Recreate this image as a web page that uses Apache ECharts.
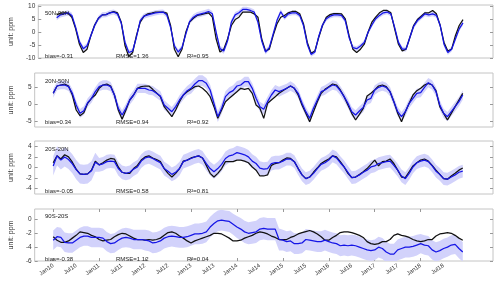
<!DOCTYPE html>
<html><head><meta charset="utf-8">
<script src="https://cdn.jsdelivr.net/npm/echarts@6/dist/echarts.min.js"></script>
<style>html,body{margin:0;padding:0;background:#fff}#c{width:500px;height:281px}</style>
</head><body><div id="c"></div>
<script>
// ---- data (monthly, Jan 2010 .. Dec 2018) ----
const regions = ['50N-90N', '20N-50N', '20S-20N', '90S-20S'];
const biasTxt = ['bias=-0.31', 'bias=0.34', 'bias=-0.05', 'bias=-0.38'];
const rmseTxt = ['RMSE=1.36', 'RMSE=0.94', 'RMSE=0.58', 'RMSE=1.12'];
const r2Txt = ['R\u00B2=0.95', 'R\u00B2=0.92', 'R\u00B2=0.81', 'R\u00B2=0.04'];

const obs1 = [6.6,7.3,7.4,7.3,5.7,1.2,-4.7,-7.9,-6.6,-1.4,2.7,5.3,6.6,6.7,7.4,7.9,7.4,3.8,-5.3,-9.5,-7.9,-1.4,3.8,6.1,7.0,7.3,7.7,
 7.7,
 7.7,7.3,2.5,-6.6,-9.5,-6.6,-0.1,3.8,5.3,6.4,6.7,7.1,7.4,5.7,-2.7,-7.7,-6.6,-2.7,2.5,4.8,5.7,7.7,7.7,7.7,7.0,5.7,-2.7,-7.3,-6.6,-1.4,3.1,5.7,6.4,7.4,7.9,7.9,7.0,3.1,-4.0,-8.2,-7.3,-2.1,2.5,5.7,6.7,7.1,7.1,7.0,5.1,-1.4,-6.6,-7.9,
 -6.6,
 -4.7,-0.1,3.8,5.7,7.4,8.3,8.3,7.4,1.2,-4.7,-7.3,-6.6,-2.1,2.5,4.8,6.1,7.4,7.4,8.3,7.0,2.5,-4.0,-7.3,-6.6,-1.4,2.5,4.8];
const mod1 = [5.5,6.6,7.0,7.4,6.4,1.8,-3.8,-6.4,-5.3,-1.4,2.5,5.3,6.6,6.7,7.4,7.7,7.0,3.5,-4.0,-7.9,-7.3,-2.0,4.4,6.1,6.6,7.0,7.4,
 7.6,
 7.7,6.6,1.8,-5.3,-7.7,-6.0,-0.8,4.0,5.7,6.6,7.0,7.4,7.9,7.0,-0.1,-6.4,-7.3,-3.4,3.8,6.6,7.4,8.7,8.7,8.3,7.7,3.8,-3.4,-7.7,-6.0,-0.8,4.4,7.8,5.5,7.0,7.4,7.4,6.4,2.5,-4.7,-8.6,-7.7,-1.7,2.7,5.1,6.1,6.6,6.6,6.4,4.4,-2.1,-6.0,-6.4,
 -5.4,
 -4.0,-0.1,2.7,5.1,6.4,7.4,7.7,7.0,1.8,-4.0,-6.6,-6.6,-2.1,2.2,4.4,5.7,7.0,6.6,7.0,6.4,2.5,-4.7,-7.9,-6.6,-2.7,1.2,3.5];
const spread1 = [1.0,1.0,1.0,1.1,1.0,0.9,0.9,0.9,0.9];

const obs2 = [3.3,5.5,5.8,6.1,5.5,2.8,-1.7,-3.4,-2.5,0.3,1.8,2.8,4.8,5.8,6.1,5.5,2.8,-1.7,-4.5,-1.7,1.3,2.8,4.8,5.3,5.5,5.5,4.5,
 3.4,
 2.3,-0.7,-2.2,-3.7,-1.7,0.8,2.8,3.8,4.5,5.3,5.5,4.8,3.8,2.3,-0.7,-4.2,-1.7,0.8,1.8,2.8,3.8,4.8,4.5,4.8,3.3,-0.2,-1.2,-4.2,0.3,1.3,2.3,3.3,4.1,4.8,5.5,4.8,2.8,-0.2,-2.7,-5.2,-2.2,0.8,3.3,4.5,5.3,6.1,5.8,4.3,2.3,-0.2,-2.7,-4.7,
 -3.0,
 -1.2,2.5,3.3,4.3,5.5,5.8,5.3,3.8,0.8,-2.7,-5.2,-2.2,0.3,2.8,4.1,4.8,5.8,6.3,5.8,4.1,-0.7,-2.7,-4.7,-2.7,-0.7,1.3,3.3];
const mod2 = [3.3,5.5,5.8,5.8,5.3,3.3,-0.2,-2.7,-1.9,0.5,1.8,3.8,5.3,5.8,5.8,5.3,2.8,-1.2,-3.2,-1.2,1.3,2.8,4.8,4.8,4.8,4.3,4.1,
 3.3,
 2.5,-0.2,-1.2,-2.2,-0.7,1.3,2.8,4.1,4.8,6.1,7.1,7.1,6.3,4.3,0.3,-3.7,-1.2,2.3,3.5,4.1,5.5,5.8,6.8,6.8,4.8,1.8,-0.7,-1.5,0.8,2.8,4.3,3.8,4.3,4.8,5.5,4.8,3.3,0.3,-2.2,-4.2,-1.2,1.3,3.8,4.3,5.1,5.8,5.5,4.1,2.3,0.3,-2.2,-3.2,
 -2.0,
 -0.9,1.3,1.8,4.3,5.1,5.5,5.1,3.8,0.8,-2.2,-3.7,-2.2,0.3,1.8,3.3,3.5,5.1,6.5,5.8,3.8,-0.2,-2.7,-3.7,-2.2,-0.7,0.8,2.8];
const spread2 = [1.3,1.4,1.4,1.6,1.5,1.4,1.4,1.4,1.4];

const obs3 = [0.9,2.2,1.6,2.4,2.0,1.0,-0.3,-1.2,-1.3,-1.2,-0.5,1.2,0.5,0.9,1.4,1.7,1.6,0.1,-0.9,-1.1,-1.1,-0.2,0.4,1.4,2.0,2.2,1.8,
 1.5,
 1.1,-0.2,-1.1,-1.8,-1.1,-0.2,1.2,1.4,1.8,2.0,2.2,1.8,0.4,-1.1,-1.8,-1.1,-0.2,1.1,1.1,1.1,1.4,1.4,1.2,0.9,0.1,-0.5,-1.6,-1.6,-1.4,0.4,0.75,0.9,1.4,1.8,1.7,1.1,-0.2,-1.4,-2.1,-1.8,-0.9,-0.1,0.75,1.2,1.6,2.2,2.0,1.1,0.1,-1.1,-1.9,-1.8,
 -1.3,
 -0.8,-0.2,0.6,1.4,0.3,1.1,1.2,1.6,0.75,-0.5,-1.8,-1.9,-0.8,0.3,0.9,1.4,1.6,1.2,0.4,-0.5,-1.3,-2.1,-2.2,-1.6,-1.1,-0.5,-0.1];
const mod3 = [0.3,2.2,1.4,2.0,1.5,0.7,-0.4,-1.2,-1.3,-1.2,-0.6,1.0,0.5,0.7,1.1,1.2,1.1,-0.2,-0.9,-1.1,-0.9,-0.3,0.1,1.2,1.8,2.0,1.7,
 1.3,
 0.9,-0.2,-0.7,-1.3,-0.9,-0.2,1.1,1.4,1.7,2.0,2.2,1.8,0.75,-0.2,-0.8,-0.2,0.6,1.7,2.2,2.4,2.8,2.6,2.4,2.0,1.2,0.75,-0.1,-0.3,-0.2,0.75,0.9,0.9,1.2,1.6,1.6,1.1,-0.2,-1.4,-2.1,-1.8,-1.1,-0.2,0.6,0.9,1.4,2.2,1.8,0.9,0.1,-0.9,-1.9,-1.8,
 -1.4,
 -0.9,-0.5,0.1,0.3,0.75,0.9,1.1,1.2,0.4,-0.5,-1.6,-2.1,-1.1,0.1,0.9,1.2,1.4,1.1,0.3,-0.7,-1.3,-2.1,-2.2,-1.8,-1.4,-0.9,-0.7];
const spread3 = [1.8,1.3,1.3,1.3,1.3,1.2,1.2,1.2,1.2];

const obs4 = [-2.5,-3.0,-3.3,-3.3,-3.1,-2.7,-2.3,-1.8,-1.9,-2.0,-2.3,-2.5,-2.9,-3.1,-3.0,-2.9,-2.5,-2.2,-2.0,-2.1,-2.4,-2.7,-2.9,-2.9,-3.0,-2.9,-3.0,
 -2.9,
 -2.7,-2.3,-1.9,-1.8,-2.0,-2.4,-2.7,-3.1,-3.4,-3.1,-2.9,-2.7,-2.5,-2.3,-2.0,-2.0,-2.1,-2.4,-2.7,-3.1,-3.1,-3.0,-2.7,-2.5,-2.3,-2.0,-1.8,-1.9,-2.1,-2.4,-2.6,-2.9,-2.9,-2.9,-2.6,-2.4,-2.1,-1.9,-1.75,-1.6,-1.8,-2.1,-2.5,-3.0,-3.0,-2.6,-2.3,-1.9,-1.8,-1.8,-1.9,-2.1,
 -2.3,
 -2.6,-3.2,-3.5,-3.6,-3.5,-3.2,-3.2,-2.9,-2.3,-2.1,-2.3,-2.4,-2.6,-2.9,-3.1,-3.2,-3.1,-2.9,-2.9,-2.4,-2.1,-2.0,-1.9,-2.0,-2.3,-2.7,-3.0];
const mod4 = [-3.0,-2.5,-2.6,-3.3,-3.4,-3.4,-3.0,-2.6,-2.4,-2.4,-2.6,-2.6,-2.6,-2.7,-3.2,-3.5,-3.4,-3.0,-2.7,-2.6,-2.7,-2.9,-2.9,-2.9,-3.0,-3.1,-3.4,
 -3.3,
 -3.1,-2.7,-2.5,-2.4,-2.5,-2.6,-2.6,-2.5,-2.3,-2.1,-2.1,-2.0,-1.8,-1.1,-0.6,-0.2,-0.1,-0.2,-0.3,-0.7,-1.1,-1.4,-1.8,-2.0,-1.9,-1.8,-1.4,-1.3,-1.4,-1.4,-1.4,-2.9,-3.0,-3.2,-3.1,-3.5,-3.5,-3.4,-2.9,-3.0,-3.1,-3.2,-3.2,-3.0,-3.2,-3.4,-3.5,-3.8,-3.7,-3.8,-3.7,-3.8,
 -4.0,
 -4.2,-4.4,-4.5,-4.4,-4.0,-4.2,-4.7,-5.0,-5.0,-4.4,-4.2,-4.0,-4.0,-3.9,-3.7,-3.5,-3.7,-3.8,-4.4,-4.7,-4.5,-4.2,-4.0,-3.7,-3.6,-4.2,-4.7];
const spread4 = [1.4,1.4,1.5,1.5,1.6,1.5,1.5,1.5,1.4];

const yTicks = [[-10,-5,0,5,10],[-5,0,5],[-4,-2,0,2,4],[-6,-4,-2,0]];
const xTickLabels = ['Jan10','Jul10','Jan11','Jul11','Jan12','Jul12','Jan13','Jul13','Jan14','Jul14','Jan15','Jul15','Jan16','Jul16','Jan17','Jul17','Jan18','Jul18'];
const xTickMonths = [0,6,12,18,24,30,36,42,48,54,60,66,72,78,84,90,96,102];
const xMajorMonths = [0,12,24,36,48,60,72,84,96];

// ---- layout / style ----
const obsAll = [obs1, obs2, obs3, obs4];
const modAll = [mod1, mod2, mod3, mod4];
const sprAll = [spread1, spread2, spread3, spread4];
const yRange = [[-10, 10.4], [-6.8, 9.4], [-5, 5], [-6, 1.5]];
const gridPos = [{top: 5, height: 53}, {top: 73, height: 54}, {top: 141, height: 53}, {top: 209, height: 52}];
const FONT = "'Liberation Sans', Arial, sans-serif";
const XMIN = -4.84, XMAX = 114.9;
const tickStyle = {color: '#999', width: 1};

const grid = [], xAxis = [], yAxis = [], series = [], graphic = [];
for (let i = 0; i < 4; i++) {
  grid.push({left: 23, right: 7, top: gridPos[i].top, height: gridPos[i].height,
    show: true, borderColor: '#c4c4c4', borderWidth: 1, backgroundColor: 'transparent'});
  const bottom = i === 3;
  xAxis.push({type: 'value', gridIndex: i, min: XMIN, max: XMAX, position: 'bottom',
    axisLine: {show: false, onZero: false}, splitLine: {show: false},
    axisTick: {show: bottom, inside: true, length: 3, lineStyle: tickStyle, customValues: xMajorMonths},
    axisLabel: {show: bottom, customValues: xTickMonths, rotate: 35, fontSize: 6, margin: 4, color: '#333', fontFamily: FONT,
      formatter: v => { const k = xTickMonths.indexOf(Math.round(v)); return k >= 0 ? xTickLabels[k] : ''; }}});
  xAxis.push({type: 'value', gridIndex: i, min: XMIN, max: XMAX, position: 'top',
    axisLine: {show: false, onZero: false}, splitLine: {show: false}, axisLabel: {show: false},
    axisTick: {show: bottom, inside: true, length: 3, lineStyle: tickStyle, customValues: xMajorMonths}});
  yAxis.push({type: 'value', gridIndex: i, min: yRange[i][0], max: yRange[i][1], position: 'left',
    name: 'unit: ppm', nameLocation: 'middle', nameGap: 12, nameRotate: 90,
    nameTextStyle: {fontSize: 7, color: '#333', fontFamily: FONT},
    axisLine: {show: false, onZero: false}, splitLine: {show: false},
    axisTick: {show: true, inside: true, length: 3, lineStyle: tickStyle, customValues: yTicks[i]},
    axisLabel: {customValues: yTicks[i], fontSize: 6.5, margin: 3, color: '#333', fontFamily: FONT}});
  yAxis.push({type: 'value', gridIndex: i, min: yRange[i][0], max: yRange[i][1], position: 'right',
    axisLine: {show: false, onZero: false}, splitLine: {show: false}, axisLabel: {show: false},
    axisTick: {show: true, inside: true, length: 3, lineStyle: tickStyle, customValues: yTicks[i]}});

  const mod = modAll[i], obs = obsAll[i], spr = sprAll[i];
  const lower = mod.map((v, m) => v - spr[Math.floor(m / 12)]);
  const upper = mod.map((v, m) => v + spr[Math.floor(m / 12)]);
  const common = {xAxisIndex: 2 * i, yAxisIndex: 2 * i, silent: true, animation: false};
  series.push(Object.assign({}, common, {
    type: 'custom', data: mod.map((v, m) => [m, lower[m], upper[m]]), clip: true, z: 1,
    renderItem: (params, api) => {
      if (params.dataIndex !== 0) return null;
      const pts = [];
      for (let m = 0; m < upper.length; m++) pts.push(api.coord([m, upper[m]]));
      for (let m = lower.length - 1; m >= 0; m--) pts.push(api.coord([m, lower[m]]));
      return {type: 'polygon', shape: {points: pts}, style: {fill: '#d2d2fb', stroke: null}};
    }}));
  series.push(Object.assign({}, common, {type: 'line', symbol: 'none', z: 3, data: obs.map((v, m) => [m, v]), lineStyle: {color: '#111', width: 1.25}}));
  series.push(Object.assign({}, common, {type: 'line', symbol: 'none', z: 4, data: mod.map((v, m) => [m, v]), lineStyle: {color: '#1515e6', width: 1.25}}));
}

const labelY = [10, 78, 146, 213];
const statY = [53, 119, 188, 256];
for (let i = 0; i < 4; i++) {
  const st = {fontSize: 6, fill: '#222', fontFamily: FONT};
  graphic.push({type: 'text', left: 45, top: labelY[i], style: Object.assign({text: regions[i]}, st), z: 100});
  graphic.push({type: 'text', left: 45, top: statY[i], style: Object.assign({text: biasTxt[i]}, st), z: 100});
  graphic.push({type: 'text', left: 116, top: statY[i], style: Object.assign({text: rmseTxt[i]}, st), z: 100});
  graphic.push({type: 'text', left: 187, top: statY[i], style: Object.assign({text: r2Txt[i]}, st), z: 100});
}

const chart = echarts.init(document.getElementById('c'), null, {renderer: 'canvas'});
chart.setOption({animation: false, backgroundColor: '#fff', grid, xAxis, yAxis, series, graphic});
</script>
</body></html>
